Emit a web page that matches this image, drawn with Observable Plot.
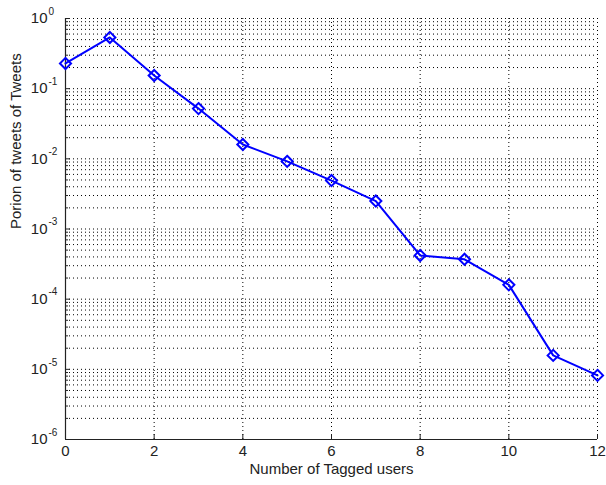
<!DOCTYPE html>
<html>
<head>
<meta charset="utf-8">
<script src="https://cdn.jsdelivr.net/npm/d3@7"></script>
<script src="https://cdn.jsdelivr.net/npm/@observablehq/plot@0.6"></script>
<style>
  html, body { margin: 0; padding: 0; background: #fff; }
</style>
</head>
<body>
<div id="chart"></div>
<script>
// Data
const taggedUsers = [0, 1, 2, 3, 4, 5, 6, 7, 8, 9, 10, 11, 12];
const tweetPortion = [0.229, 0.537, 0.154, 0.052, 0.016, 0.0092, 0.0049, 0.0025, 0.00042, 0.00037, 0.00016, 0.0000158, 0.0000082];

// Axis ticks
const xTicks = [0, 2, 4, 6, 8, 10, 12];
const xGrid = [2, 4, 6, 8, 10, 12];
const yExponents = [-6, -5, -4, -3, -2, -1, 0];
const yMajor = yExponents.map(e => Math.pow(10, e));
const yMinor = yExponents.slice(0, -1).flatMap(e => [2, 3, 4, 5, 6, 7, 8, 9].map(m => m * Math.pow(10, e)));

const xLabel = "Number of Tagged users";
const yLabel = "Porion of tweets of Tweets";

const data = taggedUsers.map((x, i) => ({x, y: tweetPortion[i]}));
const blue = "#0000ff";
const dotted = {stroke: "black", strokeOpacity: 1, strokeDasharray: "1,3", strokeWidth: 1};

const chart = Plot.plot({
  width: 606,
  height: 485,
  marginLeft: 65,
  marginRight: 9,
  marginTop: 18,
  marginBottom: 46,
  style: {fontFamily: "'Liberation Sans', Arial, sans-serif", fontSize: "14px", background: "#fff", color: "#222"},
  x: {domain: [0, 12]},
  y: {type: "log", domain: [1e-6, 1]},
  marks: [
    Plot.gridY(yMinor, dotted),
    Plot.gridY(yMajor, dotted),
    Plot.gridX(xGrid, dotted),
    Plot.axisX(xGrid, {tickSize: -5, tickFormat: () => "", stroke: "#222", label: null}),
    Plot.axisY(yMajor, {tickSize: -5, tickFormat: () => "", stroke: "#222", label: null}),
    Plot.axisY(yMinor, {tickSize: -3, tickFormat: () => "", stroke: "#222", label: null}),
    Plot.axisX(xTicks, {tickSize: 0, tickPadding: 6, tickFormat: d => String(d), label: null, fontSize: 15}),
    Plot.text(yMajor, {y: d => d, frameAnchor: "left", dx: -18, textAnchor: "end", text: () => "10", fontSize: 15}),
    Plot.text(yMajor, {y: d => d, frameAnchor: "left", dx: -17, dy: -7, textAnchor: "start", text: d => String(Math.round(Math.log10(d))).replace("−", "-"), fontSize: 10}),
    Plot.text([yLabel], {frameAnchor: "left", dx: -49, rotate: -90, text: d => d, fontSize: 15}),
    Plot.text([xLabel], {frameAnchor: "bottom", dy: 34, text: d => d, fontSize: 15}),
    Plot.ruleX([0], {stroke: "#222", strokeWidth: 1.2}),
    Plot.ruleY([1e-6], {stroke: "#222", strokeWidth: 1.2}),
    Plot.line(data, {x: "x", y: "y", stroke: blue, strokeWidth: 2}),
    Plot.dot(data, {x: "x", y: "y", symbol: "diamond2", r: 5, stroke: blue, strokeWidth: 2, fill: "none"})
  ]
});
document.getElementById("chart").appendChild(chart);
</script>
</body>
</html>
